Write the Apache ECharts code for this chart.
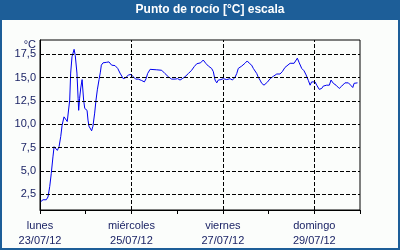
<!DOCTYPE html>
<html>
<head>
<meta charset="utf-8">
<script src="https://cdn.jsdelivr.net/npm/echarts@6/dist/echarts.min.js"></script>
<style>
html,body{margin:0;padding:0;background:#fff;}
#c{width:400px;height:250px;}
</style>
</head>
<body>
<div id="c"></div>
<script>
// Hours since 23/07/12 00:00
var hours = [0.4,1.6,2.5,3.3,4.2,5.1,5.9,6.8,7.4,8.2,9.1,10.0,10.9,11.6,12.6,13.5,14.3,15.2,15.6,16.1,16.8,17.9,18.5,19.4,20.0,20.3,20.8,21.4,22.1,22.6,22.9,23.5,24.0,24.7,25.2,25.7,26.6,27.1,27.8,28.7,29.4,30.1,31.0,31.7,32.2,33.1,34.8,36.2,37.6,39.4,40.8,42.0,43.7,45.0,46.4,47.8,49.0,50.2,51.6,53.4,54.8,55.7,56.5,57.8,58.6,61.3,63.9,65.6,67.4,69.1,70.9,72.3,73.5,74.7,76.1,77.9,79.6,81.0,82.3,83.3,84.3,85.7,87.0,88.4,90.1,91.0,91.9,92.8,93.6,95.0,96.2,98.0,99.8,101.0,102.4,103.3,104.1,105.9,107.6,108.8,109.9,111.1,112.0,112.9,113.8,114.6,115.5,116.4,117.6,118.5,119.5,120.8,122.5,124.3,126.0,127.2,128.6,131.3,133.4,134.4,135.1,136.1,137.4,138.6,139.7,140.9,141.8,142.6,143.5,144.4,145.3,146.6,147.9,148.7,150.5,151.9,152.8,154.0,155.4,157.1,158.4,160.1,161.9,163.1,164.2,164.9,165.9,166.7];
var dewPoint = [1.7,1.9,1.75,1.9,2.2,3.3,4.7,6.5,7.6,7.65,7.2,7.6,8.7,9.9,10.8,10.9,10.3,10.3,12.6,15.5,17.25,18.05,17.4,15.5,12.8,11.5,12.8,13.9,14.8,14.75,12.6,11.7,11.9,11.5,10.45,9.8,9.67,9.3,9.8,11.2,12.6,13.7,14.8,15.6,16.35,16.6,16.65,16.7,16.35,16.3,16.0,15.5,14.9,15.0,15.3,15.35,15.1,14.85,14.85,14.7,14.55,14.9,15.45,15.9,15.85,15.85,15.8,15.45,15.1,14.85,14.85,14.9,14.75,14.9,15.1,15.45,15.8,16.2,16.5,16.35,16.6,16.9,16.55,16.25,16.0,15.65,14.75,14.45,14.75,14.8,14.9,14.8,14.9,14.75,15.05,15.45,16.0,16.25,16.55,16.8,16.55,16.35,16.0,15.9,15.45,15.05,14.75,14.4,14.2,14.2,14.55,14.9,15.15,15.4,15.4,15.65,16.1,16.55,16.55,16.7,17.1,16.6,16.0,15.75,15.3,14.7,14.2,14.55,14.4,14.55,14.2,13.75,13.85,14.1,14.2,14.2,14.75,14.4,14.2,13.85,14.1,14.45,14.45,14.2,13.95,14.4,14.45,14.45];
var yTicks = [2.5,5.0,7.5,10.0,12.5,15.0,17.5];
var xLabelDays = [0,2,4,6];
var xLabelWeekdays = ['lunes','miércoles','viernes','domingo'];
var xLabelDates = ['23/07/12','25/07/12','27/07/12','29/07/12'];
var titleText = 'Punto de rocío [°C] escala';
var unitText = '°C';

var data = hours.map(function(h,i){ return [h/24, dewPoint[i]]; });
var textColor = '#1c2466';
var font = 'Liberation Sans, Arial, sans-serif';

var chart = echarts.init(document.getElementById('c'), null, {renderer:'canvas'});
var gridMarks = yTicks.map(function(v){ return {yAxis: v}; })
  .concat(xLabelDays.filter(function(d){return d>0;}).map(function(d){ return {xAxis: d}; }));

chart.setOption({
  animation:false,
  backgroundColor:'#fbfdfb',
  grid:{left:40,top:40,right:40,bottom:40,show:true,borderColor:'#000',borderWidth:1,backgroundColor:'#fbfdfb'},
  xAxis:{
    type:'value', min:0, max:7, interval:1,
    axisLine:{show:true,lineStyle:{color:'#000',width:1}},
    axisTick:{show:true,length:4,lineStyle:{color:'#000'}},
    splitLine:{show:false},
    axisLabel:{
      margin:8, color:textColor, fontFamily:font, fontSize:11, lineHeight:15,
      showMaxLabel:true, showMinLabel:true,
      formatter:function(v){
        var i = xLabelDays.indexOf(Math.round(v));
        if (i<0 || Math.abs(v-Math.round(v))>1e-6) return '';
        return xLabelWeekdays[i]+'\n'+xLabelDates[i];
      }
    }
  },
  yAxis:{
    type:'value', min:0.8, max:19.05,
    axisLine:{show:true,lineStyle:{color:'#000',width:1}},
    axisTick:{show:false},
    splitLine:{show:false},
    axisLabel:{
      customValues:yTicks, margin:4, color:textColor, fontFamily:font, fontSize:11,
      formatter:function(v){ return v.toFixed(1).replace('.',','); }
    }
  },
  graphic:[
    {type:'rect',z:-1,silent:true,shape:{x:1,y:1,width:398,height:248},style:{fill:'none',stroke:'#1d5e98',lineWidth:2}},
    {type:'rect',z:10,silent:true,shape:{x:0,y:0,width:400,height:20},style:{fill:'#1d5e98'}},
    {type:'text',z:11,x:210,y:10,style:{text:titleText,fill:'#ffffff',font:'bold 12px Liberation Sans, Arial, sans-serif',textAlign:'center',textVerticalAlign:'middle'}},
    {type:'text',z:11,x:36,y:45,style:{text:unitText,fill:textColor,font:'11px Liberation Sans, Arial, sans-serif',textAlign:'right',textVerticalAlign:'middle'}}
  ],
  series:[
    {
      type:'line', data:[], z:1, silent:true,
      markLine:{
        silent:true, symbol:['none','none'], label:{show:false}, animation:false,
        lineStyle:{color:'#000',type:[4,2],width:1},
        data:gridMarks
      }
    },
    {
      type:'line', data:data, z:3, showSymbol:false, symbol:'none',
      lineStyle:{color:'#0000f0',width:1},
      silent:true
    }
  ]
});
</script>
</body>
</html>
